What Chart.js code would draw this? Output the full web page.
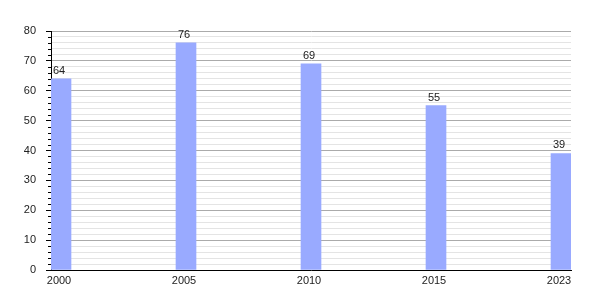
<!DOCTYPE html>
<html>
<head>
<meta charset="utf-8">
<script src="https://cdn.jsdelivr.net/npm/chart.js@4"></script>
<style>
html,body{margin:0;padding:0;background:#fff;}
#wrap{width:600px;height:300px;}
</style>
</head>
<body>
<div id="wrap"><canvas id="c" width="600" height="300"></canvas></div>
<script>
const categories = ['2000', '2005', '2010', '2015', '2023'];
const values = [64, 76, 69, 55, 39];
const yMin = 0;
const yMax = 80;
const yMajorStep = 10;
const yMinorStep = 2;

const FONT = 'Liberation Sans, Arial, sans-serif';

const valueLabels = {
  id: 'valueLabels',
  afterDatasetsDraw(chart) {
    const ctx = chart.ctx;
    const meta = chart.getDatasetMeta(0);
    ctx.save();
    ctx.font = '11px ' + FONT;
    ctx.fillStyle = '#222';
    ctx.textAlign = 'center';
    ctx.textBaseline = 'alphabetic';
    meta.data.forEach((bar, i) => {
      ctx.fillText(String(values[i]), bar.x - 2, bar.y - 5);
    });
    ctx.restore();
  }
};

const minorTicks = {
  id: 'minorTicks',
  afterDraw(chart) {
    const ctx = chart.ctx;
    const ys = chart.scales.y;
    const left = chart.chartArea.left;
    ctx.save();
    ctx.strokeStyle = '#000';
    ctx.lineWidth = 1;
    ys.ticks.forEach(t => {
      if (t.value % yMajorStep !== 0) {
        const y = Math.round(ys.getPixelForValue(t.value)) + 0.5;
        ctx.beginPath();
        ctx.moveTo(left - 3, y);
        ctx.lineTo(left, y);
        ctx.stroke();
      }
    });
    ctx.restore();
  }
};

new Chart(document.getElementById('c'), {
  type: 'bar',
  data: {
    datasets: [{
      data: categories.map((c, i) => ({ x: i, y: values[i] })),
      backgroundColor: '#99aaff',
      borderWidth: 0,
      barThickness: 20
    }]
  },
  options: {
    responsive: false,
    animation: false,
    events: [],
    layout: { padding: { top: 31, right: 29, left: 0, bottom: 0 } },
    plugins: { legend: { display: false }, tooltip: { enabled: false } },
    scales: {
      x: {
        type: 'linear',
        offset: false,
        min: -0.08,
        max: 4.08,
        afterBuildTicks: s => { s.ticks = categories.map((c, i) => ({ value: i })); },
        afterFit: s => { s.height = 30; },
        ticks: {
          callback: v => categories[v] ?? '',
          font: { family: FONT, size: 11 },
          color: '#222',
          padding: 4,
          labelOffset: -2,
          maxRotation: 0,
          autoSkip: false
        },
        grid: { display: false, drawTicks: false, offset: false },
        border: { display: true, color: '#000', width: 1 }
      },
      y: {
        min: yMin,
        max: yMax,
        afterFit: s => { s.width = 51; },
        ticks: {
          stepSize: yMinorStep,
          autoSkip: false,
          callback: v => (v % yMajorStep === 0 ? String(v) : ''),
          font: { family: FONT, size: 11 },
          color: '#222',
          padding: 10
        },
        grid: {
          color: c => (c.tick && c.tick.value % yMajorStep === 0 ? '#aaaaaa' : '#e4e4e4'),
          tickColor: c => (c.tick && c.tick.value % yMajorStep === 0 ? '#000' : 'rgba(0,0,0,0)'),
          tickLength: 5,
          lineWidth: 1
        },
        border: { display: true, color: '#000', width: 1 }
      }
    }
  },
  plugins: [valueLabels, minorTicks]
});
</script>
</body>
</html>
